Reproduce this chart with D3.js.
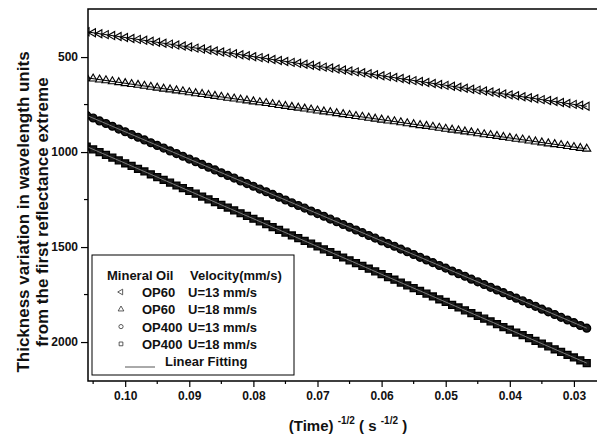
<!DOCTYPE html>
<html>
<head>
<meta charset="utf-8">
<style>
body { margin: 0; background: #fff; }
svg text { font-family: "Liberation Sans", Arial, sans-serif; font-weight: bold; fill: #111; }
</style>
</head>
<body>
<svg width="597" height="436"></svg>
<script src="https://d3js.org/d3.v7.min.js"></script>
<script>
var svg = d3.select("svg"),
    width = +svg.attr("width"),
    height = +svg.attr("height");

// (Time)^-1/2 sample points
var timeX = [0.106,0.105,0.104,0.103,0.102,0.101,0.100,0.099,0.098,0.097,
  0.096,0.095,0.094,0.093,0.092,0.091,0.090,0.089,0.088,0.087,
  0.086,0.085,0.084,0.083,0.082,0.081,0.080,0.079,0.078,0.077,
  0.076,0.075,0.074,0.073,0.072,0.071,0.070,0.069,0.068,0.067,
  0.066,0.065,0.064,0.063,0.062,0.061,0.060,0.059,0.058,0.057,
  0.056,0.055,0.054,0.053,0.052,0.051,0.050,0.049,0.048,0.047,
  0.046,0.045,0.044,0.043,0.042,0.041,0.040,0.039,0.038,0.037,
  0.036,0.035,0.034,0.033,0.032,0.031,0.030,0.029,0.028];

var op60u13 = [367,372,377,382,387,392,397,402,407,412,
  417,422,427,432,437,442,447,453,458,463,
  468,473,478,483,488,493,498,503,508,513,
  518,523,528,533,538,543,548,553,558,563,
  568,573,578,583,588,593,598,603,608,613,
  619,624,629,634,639,644,649,654,659,664,
  669,674,679,684,689,694,699,704,709,714,
  719,724,729,734,739,744,749,754,759];

var op60u18 = [609,614,619,623,628,633,638,643,647,652,
  657,662,667,671,676,681,686,691,695,700,
  705,710,715,719,724,729,734,739,743,748,
  753,758,763,767,772,777,782,787,791,796,
  801,806,811,815,820,825,830,835,839,844,
  849,854,859,863,868,873,878,883,887,892,
  897,902,907,911,916,921,926,931,935,940,
  945,950,955,959,964,969,974,979,983];

var op400u13 = [807,821,836,850,864,879,893,908,922,936,
  951,965,979,994,1008,1022,1037,1051,1065,1080,
  1094,1109,1123,1137,1152,1166,1180,1195,1209,1223,
  1238,1252,1267,1281,1295,1310,1324,1338,1353,1367,
  1381,1396,1410,1424,1439,1453,1468,1482,1496,1511,
  1525,1539,1554,1568,1582,1597,1611,1626,1640,1654,
  1669,1683,1697,1712,1726,1740,1755,1769,1783,1798,
  1812,1827,1841,1855,1870,1884,1898,1913,1927];

var op400u18 = [971,986,1000,1015,1029,1044,1059,1073,1088,1102,
  1117,1132,1146,1161,1176,1190,1205,1219,1234,1249,
  1263,1278,1292,1307,1322,1336,1351,1365,1380,1395,
  1409,1424,1439,1453,1468,1482,1497,1512,1526,1541,
  1555,1570,1585,1599,1614,1628,1643,1658,1672,1687,
  1702,1716,1731,1745,1760,1775,1789,1804,1818,1833,
  1848,1862,1877,1891,1906,1921,1935,1950,1964,1979,
  1994,2008,2023,2038,2052,2067,2081,2096,2111];

var oils = ["OP60", "OP60", "OP400", "OP400"];
var velocities = ["U=13 mm/s", "U=18 mm/s", "U=13 mm/s", "U=18 mm/s"];
var yMajor = [500, 1000, 1500, 2000];
var yMinor = [750, 1250, 1750];
var xMajor = [0.10, 0.09, 0.08, 0.07, 0.06, 0.05, 0.04, 0.03];
var xMinor = [0.105, 0.095, 0.085, 0.075, 0.065, 0.055, 0.045, 0.035];

var series = [
  {values: op60u13, shape: "left"},
  {values: op60u18, shape: "up"},
  {values: op400u13, shape: "circle"},
  {values: op400u18, shape: "square"}
];

var pL = 88, pT = 9, pR = 597, pB = 381;

var x = d3.scaleLinear().domain([0.1058, 0.0264]).range([pL, pR]);
var y = d3.scaleLinear().domain([247, 2205]).range([pT, pB]);

function symbolPath(shape, size) {
  if (shape == "circle") return d3.symbol(d3.symbolCircle, size)();
  if (shape == "square") return d3.symbol(d3.symbolSquare, size)();
  return d3.symbol(d3.symbolTriangle, size)();
}
function rot(shape) { return shape == "left" ? " rotate(-90)" : ""; }

svg.append("clipPath").attr("id", "plot")
  .append("rect").attr("x", pL).attr("y", pT)
  .attr("width", pR - pL).attr("height", pB - pT);

var plot = svg.append("g").attr("clip-path", "url(#plot)");

series.forEach(function(s) {
  var dark = s.shape == "circle" || s.shape == "square";
  plot.append("g").selectAll("path")
    .data(s.values)
    .enter().append("path")
      .attr("transform", function(d, i) { return "translate(" + x(timeX[i]) + "," + y(d) + ")" + rot(s.shape); })
      .attr("d", symbolPath(s.shape, dark ? 48 : 28))
      .attr("fill", dark ? "#1a1a1a" : "#f4f4f4")
      .attr("stroke", "#000")
      .attr("stroke-width", dark ? 1.3 : 1.1);

  // least-squares line through the points
  var n = timeX.length,
      mx = d3.mean(timeX), my = d3.mean(s.values),
      sxy = d3.sum(timeX, function(t, i) { return (t - mx) * (s.values[i] - my); }),
      sxx = d3.sum(timeX, function(t) { return (t - mx) * (t - mx); }),
      b = sxy / sxx, a = my - b * mx;
  var x0 = timeX[0], x1 = timeX[n - 1];
  plot.append("line")
    .attr("x1", x(x0)).attr("y1", y(a + b * x0))
    .attr("x2", x(x1)).attr("y2", y(a + b * x1))
    .attr("stroke", dark ? "#777" : "#000").attr("stroke-width", 1);
});

// frame
svg.append("path")
  .attr("d", "M" + pR + "," + pT + "H" + pL + "V" + pB + "H" + pR)
  .attr("fill", "none").attr("stroke", "#000").attr("stroke-width", 1.5);

// y axis
var yAxis = svg.append("g").attr("transform", "translate(" + pL + ",0)")
  .call(d3.axisLeft(y).tickValues(yMajor).tickSize(7).tickPadding(3)
    .tickFormat(d3.format("d")));
yAxis.select(".domain").remove();
yAxis.selectAll("text").attr("font-size", 12).style("font-family", null);
yAxis.selectAll("line").attr("stroke-width", 1.2);
svg.append("g").selectAll("line").data(yMinor).enter().append("line")
  .attr("x1", pL - 4).attr("x2", pL)
  .attr("y1", function(d) { return y(d); }).attr("y2", function(d) { return y(d); })
  .attr("stroke", "#000").attr("stroke-width", 1.2);

// x axis
var xAxis = svg.append("g").attr("transform", "translate(0," + pB + ")")
  .call(d3.axisBottom(x).tickValues(xMajor).tickSize(6).tickPadding(4)
    .tickFormat(d3.format(".2f")));
xAxis.select(".domain").remove();
xAxis.selectAll("text").attr("font-size", 12).style("font-family", null);
xAxis.selectAll("line").attr("stroke-width", 1.2);
svg.append("g").selectAll("line").data(xMinor).enter().append("line")
  .attr("x1", function(d) { return x(d); }).attr("x2", function(d) { return x(d); })
  .attr("y1", pB).attr("y2", pB + 3)
  .attr("stroke", "#000").attr("stroke-width", 1.2);

// axis titles
var yt = svg.append("g").attr("transform", "translate(0,212) rotate(-90)");
yt.append("text").attr("x", 0).attr("y", 29).attr("text-anchor", "middle")
  .attr("font-size", 17).text("Thickness variation in wavelength units");
yt.append("text").attr("x", 0).attr("y", 48).attr("text-anchor", "middle")
  .attr("font-size", 17).text("from the first reflectance extreme");

var xt = svg.append("text").attr("x", 348).attr("y", 431).attr("text-anchor", "middle")
  .attr("font-size", 15);
xt.append("tspan").text("(Time) ");
xt.append("tspan").attr("font-size", 10).attr("dy", -7).text("-1/2");
xt.append("tspan").attr("dy", 7).text(" ( s ");
xt.append("tspan").attr("font-size", 10).attr("dy", -7).text("-1/2");
xt.append("tspan").attr("dy", 7).text("  )");

// legend
var lg = svg.append("g");
lg.append("rect").attr("x", 92).attr("y", 255).attr("width", 202).attr("height", 120)
  .attr("fill", "#fff").attr("stroke", "#000").attr("stroke-width", 1);
lg.append("text").attr("x", 107).attr("y", 280).attr("font-size", 13).text("Mineral Oil");
lg.append("text").attr("x", 190).attr("y", 280).attr("font-size", 13).text("Velocity(mm/s)");
series.forEach(function(s, i) {
  var cy = 292 + i * 17.3;
  lg.append("path")
    .attr("transform", "translate(121," + cy + ")" + rot(s.shape))
    .attr("d", symbolPath(s.shape, 14))
    .attr("fill", "none").attr("stroke", "#333").attr("stroke-width", 0.8);
  lg.append("text").attr("x", 142).attr("y", cy + 5).attr("font-size", 13).text(oils[i]);
  lg.append("text").attr("x", 188).attr("y", cy + 5).attr("font-size", 13).text(velocities[i]);
});
lg.append("line").attr("x1", 125).attr("x2", 155).attr("y1", 367).attr("y2", 367)
  .attr("stroke", "#555").attr("stroke-width", 1);
lg.append("text").attr("x", 165).attr("y", 366).attr("font-size", 13).text("Linear Fitting");
</script>
</body>
</html>
